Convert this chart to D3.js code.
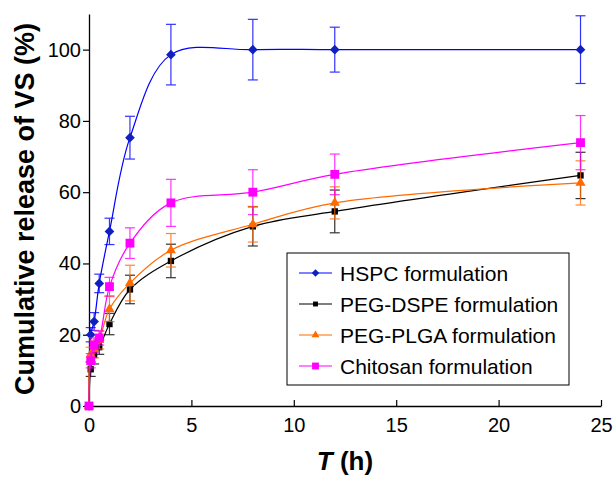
<!DOCTYPE html>
<html>
<head>
<meta charset="utf-8">
<script src="https://cdn.jsdelivr.net/npm/d3@7"></script>
<style>
  body { margin: 0; background: #fff; }
  svg { display: block; font-family: "Liberation Sans", Arial, sans-serif; }
</style>
</head>
<body>
<svg id="chart" width="615" height="478"></svg>
<script>
// Sampling times (h)
const times = [0, 0.083, 0.25, 0.5, 1, 2, 4, 8, 12, 24];

// Mean cumulative release (%) and error (+/-)
const hspcMean = [0, 20, 23.7, 34.4, 49, 75.3, 98.6, 100, 100, 100];
const hspcErr = [0, 2, 2.5, 2.6, 3.7, 6, 8.5, 8.5, 6.3, 9.5];
const dspeMean = [0, 10.3, 14.3, 16.5, 23, 32.7, 40.7, 50.4, 54.6, 64.7];
const dspeErr = [0, 2, 2.5, 2, 3, 4, 4.7, 5.5, 6, 6.5];
const plgaMean = [0, 14.5, 16, 18.5, 27.2, 34.5, 43.7, 51, 57, 62.6];
const plgaErr = [0, 2, 2.5, 2.5, 3.5, 5, 4.7, 5, 4.5, 6.2];
const chitMean = [0, 12.7, 17.1, 19.1, 33.5, 45.7, 57, 60, 65, 73.9];
const chitErr = [0, 2, 2, 2, 2.6, 4.3, 6.6, 6.3, 5.7, 7.6];

const seriesNames = ['HSPC formulation', 'PEG-DSPE formulation', 'PEG-PLGA formulation', 'Chitosan formulation'];
const xTicks = [0, 5, 10, 15, 20, 25];
const yTicks = [0, 20, 40, 60, 80, 100];

const series = [
  { name: seriesNames[0], mean: hspcMean, err: hspcErr, line: '#0000ff', fill: '#1020c0', symbol: d3.symbolDiamond2, size: 60 },
  { name: seriesNames[1], mean: dspeMean, err: dspeErr, line: '#000000', fill: '#000000', symbol: d3.symbolSquare, size: 40 },
  { name: seriesNames[2], mean: plgaMean, err: plgaErr, line: '#ff6a00', fill: '#ff6a00', symbol: d3.symbolTriangle, size: 44 },
  { name: seriesNames[3], mean: chitMean, err: chitErr, line: '#ff00ff', fill: '#ff00ff', symbol: d3.symbolSquare, size: 78 }
];

const margin = { top: 14, right: 14, bottom: 72, left: 89 };
const svg = d3.select('#chart');
const width = +svg.attr('width') - margin.left - margin.right;
const height = +svg.attr('height') - margin.top - margin.bottom;

const x = d3.scaleLinear().domain([0, 25]).range([0, width]);
const y = d3.scaleLinear().domain([0, 110]).range([height, 0]);

const g = svg.append('g').attr('transform', `translate(${margin.left},${margin.top})`);

// Axes
const xAxis = g.append('g')
  .attr('transform', `translate(0,${height})`)
  .call(d3.axisBottom(x).tickValues(xTicks).tickSizeInner(-6).tickSizeOuter(0).tickPadding(12));
xAxis.select('.domain').attr('stroke-width', 1.3);
xAxis.selectAll('.tick line').attr('stroke-width', 1.2).filter(d => d === 0).remove();
xAxis.selectAll('.tick text').attr('font-size', 20).attr('fill', '#000');

const yAxis = g.append('g')
  .call(d3.axisLeft(y).tickValues(yTicks).tickSizeInner(6).tickSizeOuter(0).tickPadding(2));
yAxis.select('.domain').attr('stroke-width', 1.3);
yAxis.selectAll('.tick line').attr('stroke-width', 1.2);
yAxis.selectAll('.tick text').attr('font-size', 20).attr('fill', '#000');

// Axis titles
svg.append('text')
  .attr('transform', 'translate(34,209) rotate(-90)')
  .attr('text-anchor', 'middle')
  .attr('font-size', 27)
  .attr('font-weight', 'bold')
  .text('Cumulative release of VS (%)');

const xTitle = svg.append('text')
  .attr('x', margin.left + width / 2)
  .attr('y', 470)
  .attr('text-anchor', 'middle')
  .attr('font-size', 26)
  .attr('font-weight', 'bold');
xTitle.append('tspan').attr('font-style', 'italic').text('T');
xTitle.append('tspan').text(' (h)');

const line = d3.line()
  .x(d => x(d[0]))
  .y(d => y(d[1]))
  .curve(d3.curveCatmullRom.alpha(0.5));

series.forEach(s => {
  const pts = times.map((t, i) => [t, s.mean[i], s.err[i]]);
  const sg = g.append('g');

  sg.append('path')
    .datum(pts)
    .attr('fill', 'none')
    .attr('stroke', s.line)
    .attr('stroke-width', 1.2)
    .attr('d', line);

  const bars = sg.selectAll('.err')
    .data(pts.filter(d => d[2] > 0))
    .join('g')
    .attr('stroke', s.line)
    .attr('stroke-width', 1.2)
    .attr('opacity', 0.8);
  bars.append('line')
    .attr('x1', d => x(d[0])).attr('x2', d => x(d[0]))
    .attr('y1', d => y(d[1] - d[2])).attr('y2', d => y(d[1] + d[2]));
  bars.append('line')
    .attr('x1', d => x(d[0]) - 5).attr('x2', d => x(d[0]) + 5)
    .attr('y1', d => y(d[1] + d[2])).attr('y2', d => y(d[1] + d[2]));
  bars.append('line')
    .attr('x1', d => x(d[0]) - 5).attr('x2', d => x(d[0]) + 5)
    .attr('y1', d => y(d[1] - d[2])).attr('y2', d => y(d[1] - d[2]));

  sg.selectAll('.pt')
    .data(pts)
    .join('path')
    .attr('transform', d => `translate(${x(d[0])},${y(d[1])})`)
    .attr('d', d3.symbol(s.symbol, s.size))
    .attr('fill', s.fill);
});

// Legend
const lg = svg.append('g').attr('transform', 'translate(287,253)');
lg.append('rect')
  .attr('width', 282).attr('height', 132)
  .attr('fill', '#fff').attr('stroke', '#000').attr('stroke-width', 1);

series.forEach((s, i) => {
  const row = lg.append('g').attr('transform', `translate(0,${20 + i * 31})`);
  row.append('line')
    .attr('x1', 12).attr('x2', 45)
    .attr('stroke', s.line).attr('stroke-width', 1.2);
  row.append('path')
    .attr('transform', 'translate(28.5,0)')
    .attr('d', d3.symbol(s.symbol, s.size * 0.6))
    .attr('fill', s.fill);
  row.append('text')
    .attr('x', 53).attr('y', 7.5)
    .attr('font-size', 21)
    .text(s.name);
});
</script>
</body>
</html>
